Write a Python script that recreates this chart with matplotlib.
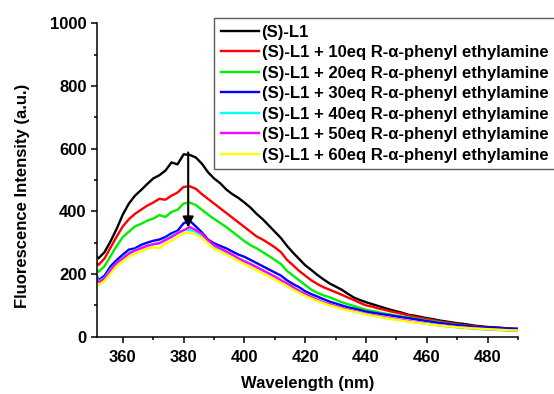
import numpy as np
import matplotlib
matplotlib.use("Agg")
import matplotlib.pyplot as plt
from matplotlib.ticker import MultipleLocator

plt.rcParams['font.family'] = ['Liberation Sans', 'DejaVu Sans']
plt.rcParams['font.weight'] = 'bold'

wavelength = [351.5] + list(range(352, 491, 2))

black = [255, 250, 270, 305, 345, 390, 425, 450, 468, 487, 505, 515, 530, 556, 550, 582, 580, 572, 552, 525, 505,
         490, 470, 455, 443, 428, 412, 392, 375, 355, 335, 315, 290, 268, 248, 228, 213, 197, 183, 170, 160,
         150, 137, 125, 117, 110, 104, 98, 92, 86, 81, 76, 70, 67, 63, 59, 56, 52, 49, 46, 43,
         41, 38, 35, 33, 31, 30, 29, 27, 26, 25]
red = [234, 229, 250, 285, 320, 352, 375, 392, 405, 418, 428, 440, 437, 450, 460, 478, 480, 472, 455, 440, 425,
       410, 395, 380, 365, 350, 335, 320, 310, 298, 285, 270, 245, 228, 210, 195, 180, 168, 158, 150, 142,
       134, 125, 117, 108, 100, 96, 90, 86, 81, 77, 73, 68, 64, 60, 56, 53, 49, 46, 43, 40,
       37, 35, 33, 31, 29, 28, 27, 26, 25, 24]
green = [213, 207, 225, 258, 290, 318, 335, 352, 360, 370, 377, 388, 382, 398, 405, 425, 428, 420, 405, 390, 376,
         363, 350, 335, 320, 305, 292, 282, 270, 258, 245, 232, 210, 195, 180, 165, 150, 140, 132, 126, 118,
         110, 104, 98, 92, 86, 82, 78, 74, 71, 67, 64, 61, 58, 55, 52, 49, 46, 43, 40, 38,
         35, 33, 31, 29, 27, 26, 25, 24, 23, 22]
blue = [192, 180, 195, 225, 245, 262, 278, 282, 293, 300, 306, 310, 318, 330, 338, 362, 370, 352, 333, 310, 298,
        290, 282, 272, 262, 255, 245, 235, 225, 215, 205, 195, 180, 168, 158, 145, 136, 128, 120, 112, 106,
        100, 94, 90, 85, 80, 77, 74, 71, 68, 65, 62, 59, 56, 53, 50, 47, 44, 42, 39, 37,
        35, 33, 31, 30, 29, 28, 27, 26, 25, 25]
cyan = [187, 175, 188, 215, 235, 252, 268, 276, 284, 290, 295, 300, 310, 322, 332, 340, 340, 335, 320, 302, 288,
        278, 270, 260, 250, 242, 232, 222, 212, 202, 192, 182, 168, 155, 145, 134, 125, 117, 110, 103, 97,
        91, 86, 81, 77, 72, 68, 65, 61, 58, 55, 52, 49, 46, 44, 41, 38, 36, 34, 32, 30,
        28, 27, 25, 24, 23, 22, 21, 20, 19, 19]
magenta = [182, 172, 186, 212, 236, 250, 265, 275, 282, 290, 295, 298, 308, 318, 330, 340, 350, 340, 328, 308, 292,
           282, 272, 262, 250, 240, 232, 222, 212, 202, 192, 180, 170, 158, 146, 136, 127, 118, 110, 103, 98,
           92, 86, 82, 78, 73, 69, 66, 62, 59, 56, 53, 50, 47, 45, 42, 39, 37, 35, 33, 31,
           29, 28, 26, 25, 24, 23, 22, 21, 20, 20]
yellow = [172, 165, 178, 202, 225, 240, 255, 265, 272, 280, 285, 282, 298, 305, 318, 330, 332, 326, 315, 298, 280,
          272, 262, 252, 242, 232, 222, 212, 202, 192, 182, 172, 162, 150, 140, 130, 122, 114, 107, 100, 95,
          89, 84, 80, 76, 71, 67, 64, 60, 57, 54, 51, 48, 46, 43, 41, 38, 36, 34, 32, 30,
          29, 27, 26, 25, 24, 23, 22, 21, 20, 20]

labels = ["(S)-L1",
          "(S)-L1 + 10eq R-α-phenyl ethylamine",
          "(S)-L1 + 20eq R-α-phenyl ethylamine",
          "(S)-L1 + 30eq R-α-phenyl ethylamine",
          "(S)-L1 + 40eq R-α-phenyl ethylamine",
          "(S)-L1 + 50eq R-α-phenyl ethylamine",
          "(S)-L1 + 60eq R-α-phenyl ethylamine"]
series = [black, red, green, blue, cyan, magenta, yellow]
colors = ['#000000', '#ff0000', '#00ee00', '#0000ff', '#00ffff', '#ff00ff', '#ffff00']

fig = plt.figure(figsize=(5.54, 3.94), dpi=100)
ax = fig.add_axes([97/554, 1-336.7/394, (518-97)/554, (336.7-23.3)/394])

for ys, c, lab in zip(series, colors, labels):
    ax.plot(wavelength, ys, color=c, lw=1.7, label=lab)

ax.annotate('', xy=(381.5, 348), xytext=(381.5, 588),
            arrowprops=dict(arrowstyle='-|>', color='black', lw=1.5, mutation_scale=16, shrinkA=0, shrinkB=0))

ax.set_xlim(351.5, 490)
ax.set_ylim(0, 1000)
ax.xaxis.set_major_locator(MultipleLocator(20))
ax.xaxis.set_minor_locator(MultipleLocator(10))
ax.yaxis.set_major_locator(MultipleLocator(200))
ax.yaxis.set_minor_locator(MultipleLocator(100))
for s in ['top', 'right']:
    ax.spines[s].set_visible(False)
for s in ['left', 'bottom']:
    ax.spines[s].set_linewidth(1.1)
ax.tick_params(axis='both', which='major', length=4.5, width=1.1, labelsize=12)
ax.tick_params(axis='both', which='minor', length=2.5, width=1.1)
ax.tick_params(axis='x', which='major', pad=5)
ax.tick_params(axis='y', which='major', pad=3)
for t in ax.get_xticklabels() + ax.get_yticklabels():
    t.set_fontweight('bold')

ax.set_xlabel('Wavelength (nm)', fontsize=12, fontweight='bold', labelpad=8)
ax.set_ylabel('Fluorescence Intensity (a.u.)', fontsize=12, fontweight='bold')
ax.yaxis.set_label_coords(-0.159, 0.45)

leg = fig.legend(loc='upper left', bbox_to_anchor=(214/554, 1-18/394), bbox_transform=fig.transFigure,
                 borderaxespad=0, frameon=True, fancybox=False, handlelength=2.3,
                 handletextpad=0.15, labelspacing=0.33, borderpad=0.4, prop={'weight': 'bold', 'size': 12})
leg.get_frame().set_edgecolor('#333333')
leg.get_frame().set_linewidth(1.0)

fig.savefig('out.png', dpi=100)
